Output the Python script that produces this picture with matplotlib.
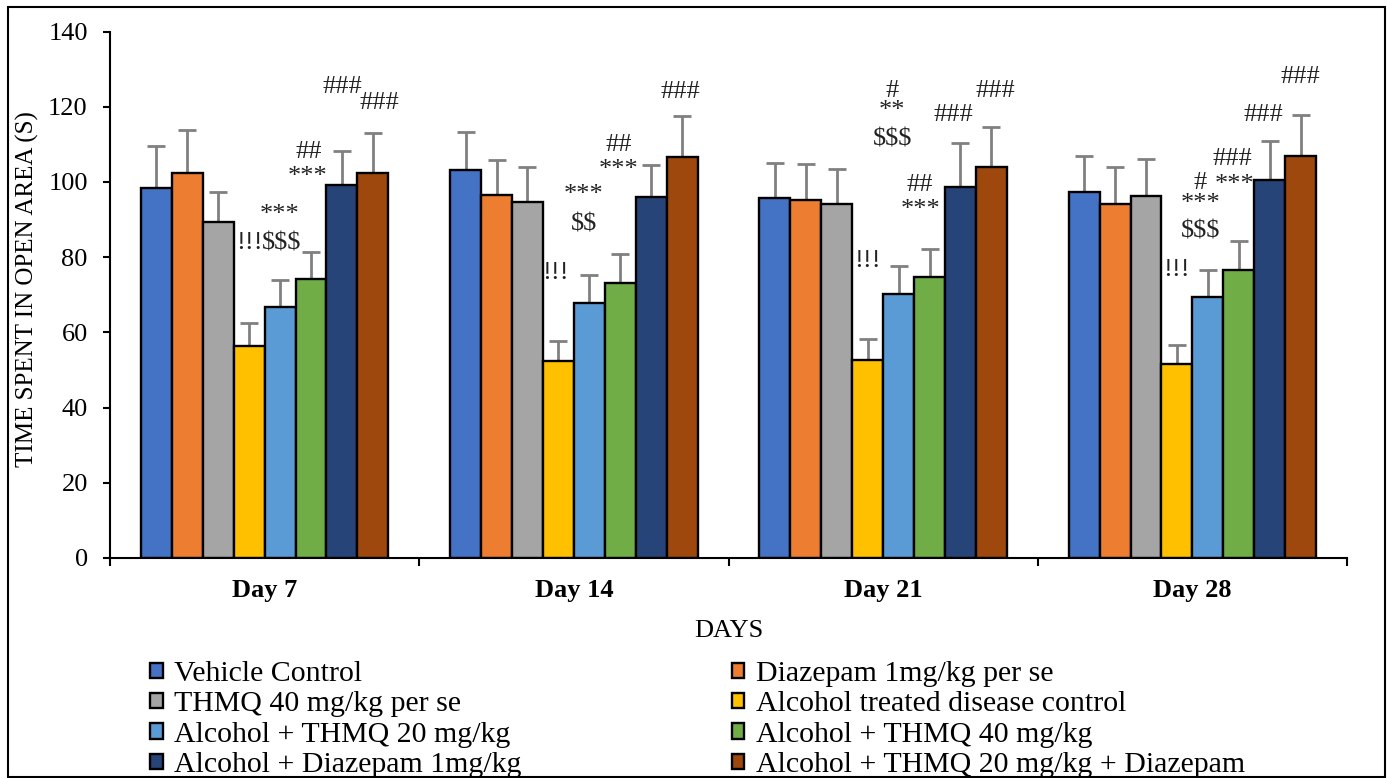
import matplotlib
matplotlib.use("Agg")
import matplotlib.pyplot as plt
from matplotlib.patches import Rectangle
import numpy as np

plt.rcParams['font.family'] = ['Liberation Serif', 'DejaVu Serif']

days = ["Day 7", "Day 14", "Day 21", "Day 28"]
series_names = [
    "Vehicle Control",
    "Diazepam 1mg/kg per se",
    "THMQ 40 mg/kg per se",
    "Alcohol treated disease control",
    "Alcohol + THMQ 20 mg/kg",
    "Alcohol + THMQ 40 mg/kg",
    "Alcohol + Diazepam 1mg/kg",
    "Alcohol + THMQ 20 mg/kg + Diazepam",
]
colors = ["#4472C4", "#ED7D31", "#A5A5A5", "#FFC000",
          "#5B9BD5", "#70AD47", "#264478", "#9E480E"]

vehicle = [98.3, 103.3, 95.6, 97.2]
diazepam = [102.4, 96.4, 95.1, 94.2]
thmq40 = [89.4, 94.6, 94.0, 96.2]
alcohol = [56.4, 52.3, 52.6, 51.5]
alc_thmq20 = [66.8, 67.9, 70.1, 69.3]
alc_thmq40 = [74.2, 73.2, 74.7, 76.7]
alc_diaz = [99.3, 95.9, 98.7, 100.4]
alc_thmq20_diaz = [102.5, 106.6, 104.1, 106.9]

vehicle_sd = [11.2, 10.0, 9.5, 9.8]
diazepam_sd = [11.4, 9.4, 9.7, 9.7]
thmq40_sd = [7.8, 9.5, 9.5, 9.8]
alcohol_sd = [6.1, 5.3, 5.6, 5.1]
alc_thmq20_sd = [7.1, 7.3, 7.5, 7.4]
alc_thmq40_sd = [7.1, 7.6, 7.5, 7.7]
alc_diaz_sd = [9.0, 8.7, 11.7, 10.4]
alc_thmq20_diaz_sd = [10.4, 10.8, 10.5, 11.0]

means = [vehicle, diazepam, thmq40, alcohol, alc_thmq20, alc_thmq40, alc_diaz, alc_thmq20_diaz]
sds = [vehicle_sd, diazepam_sd, thmq40_sd, alcohol_sd, alc_thmq20_sd, alc_thmq40_sd, alc_diaz_sd, alc_thmq20_diaz_sd]

# significance marks: day index, series index, shift in bar widths, y value, text
sig_day = [0, 0, 0, 0, 0, 0, 0,
           1, 1, 1, 1, 1, 1,
           2, 2, 2, 2, 2, 2, 2, 2,
           3, 3, 3, 3, 3, 3, 3, 3]
sig_series = [6, 7, 5, 5, 4, 3, 4,
              7, 5, 5, 4, 4, 3,
              4, 4, 4, 6, 7, 5, 5, 3,
              7, 6, 5, 4, 5, 4, 4, 3]
sig_shift = [0.0, 0.2, -0.06, -0.1, 0.0, 0.0, 0.05,
             -0.06, -0.06, -0.06, -0.17, -0.17, -0.1,
             -0.2, -0.2, -0.2, -0.24, 0.13, -0.3, -0.3, 0.0,
             0.0, -0.2, -0.2, -0.25, -0.15, -0.25, -0.25, 0.0]
sig_y = [125.2, 120.9, 107.9, 101.2, 91.1, 83.7, 83.7,
         123.9, 109.7, 103.3, 96.4, 88.7, 75.7,
         124.3, 118.8, 111.3, 117.7, 124.1, 99.1, 92.5, 78.9,
         127.9, 117.7, 106.0, 99.7, 99.1, 94.0, 86.7, 76.5]
sig_text = ["###", "###", "##", "***", "***", "!!!", "$$$",
            "###", "##", "***", "***", "$$", "!!!",
            "#", "**", "$$$", "###", "###", "##", "***", "!!!",
            "###", "###", "###", "#", "***", "***", "$$$", "!!!"]

W, H = 1387, 778
fig = plt.figure(figsize=(W / 100, H / 100), dpi=100)
ax = fig.add_axes([110 / W, 1 - 558 / H, (1347 - 110) / W, (558 - 31.5) / H])

n = len(means)
bw = 0.1
x = np.arange(len(days))
handles = []
for i in range(n):
    pos = x + (i - (n - 1) / 2) * bw
    b = ax.bar(pos, means[i], width=bw, color=colors[i], edgecolor="black",
               linewidth=1.7, label=series_names[i], zorder=2)
    handles.append(b)
    ax.errorbar(pos, means[i], yerr=[np.zeros(len(days)), sds[i]], fmt="none",
                ecolor="#808080", elinewidth=2, capsize=6.5, capthick=2, zorder=1)

for d, s, sh, yv, t in zip(sig_day, sig_series, sig_shift, sig_y, sig_text):
    xp = d + (s - (n - 1) / 2 + sh) * bw
    ax.text(xp, yv, t, ha="center", va="center", fontsize=19, color="#222222",
            parse_math=False)

ax.set_xlim(-0.5, len(days) - 0.5)
ax.set_ylim(0, 140)
ax.set_yticks(np.arange(0, 141, 20))
ax.set_xticks(x)
ax.set_xticklabels(days, fontsize=19, fontweight="bold")
ax.set_xticks(np.arange(-0.5, len(days), 1), minor=True)
ax.tick_params(axis="x", which="major", length=0, pad=15)
ax.tick_params(axis="x", which="minor", length=6, width=1.5, direction="out")
ax.tick_params(axis="y", labelsize=19, length=5, width=1.5, direction="out", pad=11)
for sp in ["top", "right"]:
    ax.spines[sp].set_visible(False)
for sp in ["left", "bottom"]:
    ax.spines[sp].set_linewidth(1.5)
ax.set_ylabel("TIME SPENT IN OPEN AREA (S)", fontsize=18, va="center")
ax.yaxis.set_label_coords((27 - 110) / 1237, 0.51)
ax.set_xlabel("DAYS", fontsize=19, labelpad=13)

order = [0, 2, 4, 6, 1, 3, 5, 7]
leg = fig.legend([handles[k] for k in order], [series_names[k] for k in order],
                 ncol=2, loc="upper left", bbox_to_anchor=(150 / W, 1 - 661 / H),
                 frameon=False, fontsize=21.5, handlelength=0.42, handleheight=0.42,
                 handletextpad=0.4, labelspacing=0.145, columnspacing=7.03,
                 borderpad=0, borderaxespad=0)

fig.add_artist(Rectangle((8 / W, 1 - 777 / H), (1385 - 8) / W, (777 - 7) / H,
                         transform=fig.transFigure, fill=False, edgecolor="black",
                         linewidth=1.5))

fig.savefig("out.png", dpi=100)
